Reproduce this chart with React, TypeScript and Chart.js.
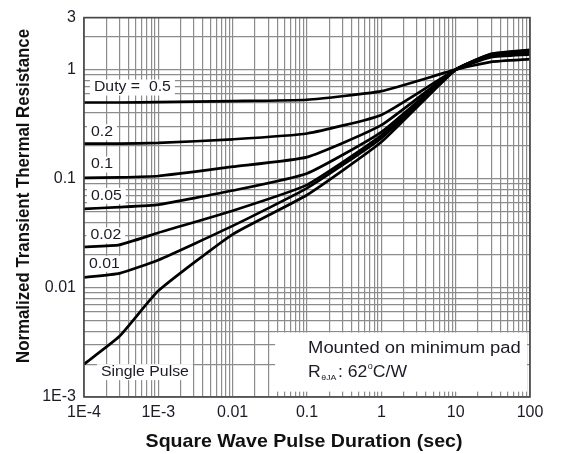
import React, { useEffect, useRef } from "react";
import { Chart, registerables } from "chart.js";

Chart.register(...registerables);

// ---- data ----
const pulseDuration = [1e-4, 3e-4, 1e-3, 1e-2, 1e-1, 1, 10, 30, 100];
const singlePulse = [0.002, 0.0036, 0.0094, 0.031, 0.071, 0.217, 1.0, 1.4, 1.52];
const duty001 = [0.0125, 0.0136, 0.018, 0.037, 0.082, 0.236, 1.0, 1.38, 1.5];
const duty002 = [0.0237, 0.0248, 0.032, 0.051, 0.088, 0.25, 1.0, 1.37, 1.48];
const duty005 = [0.053, 0.055, 0.058, 0.078, 0.112, 0.268, 1.0, 1.35, 1.45];
const duty01 = [0.102, 0.103, 0.106, 0.129, 0.158, 0.31, 1.0, 1.33, 1.42];
const duty02 = [0.21, 0.21, 0.213, 0.23, 0.26, 0.385, 1.0, 1.3, 1.38];
const duty05 = [0.5, 0.5, 0.505, 0.515, 0.53, 0.635, 1.0, 1.18, 1.25];

const xMajorTicks = [1e-4, 1e-3, 1e-2, 1e-1, 1, 10, 100];
const xTickLabels = ["1E-4", "1E-3", "0.01", "0.1", "1", "10", "100"];
const yMajorTicks = [1e-3, 1e-2, 1e-1, 1, 3];
const yTickLabels = ["1E-3", "0.01", "0.1", "1", "3"];

const curveLabelText = ["Duty =  0.5", "0.2", "0.1", "0.05", "0.02", "0.01", "Single Pulse"];
const curveLabelX = [1.36e-4, 1.24e-4, 1.24e-4, 1.24e-4, 1.22e-4, 1.17e-4, 1.69e-4];
const curveLabelY = [0.686, 0.267, 0.135, 0.0697, 0.0303, 0.0166, 0.00169];

const xTitle = "Square Wave Pulse Duration (sec)";
const yTitle = "Normalized Transient Thermal Resistance";
const noteLine1 = "Mounted on minimum pad";

// minor grid values (1..9 per decade)
const xGridValues: number[] = [];
for (let d = -4; d <= 1; d++) for (let k = 1; k <= 9; k++) xGridValues.push(k * Math.pow(10, d));
xGridValues.push(100);
const yGridValues: number[] = [];
for (let d = -3; d <= -1; d++) for (let k = 1; k <= 9; k++) yGridValues.push(k * Math.pow(10, d));
yGridValues.push(1, 2, 3);

const FONT = "'Liberation Sans', Arial, Helvetica, sans-serif";
const TEXT = "#1b1b26";

function labelFor(v: number, majors: number[], labels: string[]) {
  const i = majors.findIndex((t) => Math.abs(t - v) / t < 1e-6);
  return i >= 0 ? labels[i] : "";
}

function drawStretched(ctx: CanvasRenderingContext2D, text: string, x: number, y: number, font: string, sx: number, align: string = "left") {
  ctx.save();
  ctx.font = font;
  ctx.textBaseline = "middle";
  ctx.textAlign = "left";
  const w = ctx.measureText(text).width * sx;
  const left = align === "center" ? x - w / 2 : align === "right" ? x - w : x;
  ctx.translate(left, y);
  ctx.scale(sx, 1);
  ctx.fillText(text, 0, 0);
  ctx.restore();
  return w;
}

const annotationPlugin = {
  id: "annotations",
  beforeDatasetsDraw(chart: any) {
    const { ctx, scales, chartArea } = chart;
    const x = scales.x, y = scales.y;
    ctx.save();
    ctx.fillStyle = "#ffffff";
    ctx.font = `14px ${FONT}`;
    for (let i = 0; i < curveLabelText.length; i++) {
      const px = x.getPixelForValue(curveLabelX[i]);
      const py = y.getPixelForValue(curveLabelY[i]);
      const w = ctx.measureText(curveLabelText[i]).width * 1.13;
      ctx.fillRect(px - 4, py - 8, w + 8, 16);
    }
    // note box, bottom right
    const bx = x.getPixelForValue(0.0372);
    const by = y.getPixelForValue(0.0039);
    const bb = y.getPixelForValue(0.00112);
    ctx.fillRect(bx, by, chartArea.right - 3 - bx, bb - by);
    ctx.restore();
  },
  afterDatasetsDraw(chart: any) {
    const { ctx, scales } = chart;
    const x = scales.x, y = scales.y;
    ctx.save();
    ctx.fillStyle = TEXT;
    for (let i = 0; i < curveLabelText.length; i++) {
      drawStretched(ctx, curveLabelText[i], x.getPixelForValue(curveLabelX[i]), y.getPixelForValue(curveLabelY[i]), `14px ${FONT}`, 1.13);
    }
    const nx = x.getPixelForValue(0.1033);
    drawStretched(ctx, noteLine1, nx, y.getPixelForValue(0.00279), `16px ${FONT}`, 1.15);
    // R θJA : 62°C/W
    const ry = y.getPixelForValue(0.00169);
    let cx = nx;
    cx += drawStretched(ctx, "R", cx, ry, `16px ${FONT}`, 1.1);
    cx += drawStretched(ctx, "θJA", cx + 0.5, ry + 6, `8px ${FONT}`, 1.1) + 2;
    cx += drawStretched(ctx, ": 62", cx, ry, `16px ${FONT}`, 1.1);
    cx += drawStretched(ctx, "o", cx + 0.5, ry - 6, `9px ${FONT}`, 1.0) + 0.5;
    drawStretched(ctx, "C/W", cx, ry, `16px ${FONT}`, 1.1);
    ctx.restore();
  },
  afterDraw(chart: any) {
    const { ctx, chartArea } = chart;
    ctx.save();
    ctx.strokeStyle = "#474747";
    ctx.lineWidth = 1.6;
    ctx.strokeRect(chartArea.left, chartArea.top, chartArea.right - chartArea.left, chartArea.bottom - chartArea.top);
    ctx.fillStyle = "#111111";
    drawStretched(ctx, xTitle, 304, 441.5, `bold 19px ${FONT}`, 1.03, "center");
    ctx.translate(24, 196);
    ctx.rotate(-Math.PI / 2);
    drawStretched(ctx, yTitle, 0, 0, `bold 18.5px ${FONT}`, 0.91, "center");
    ctx.restore();
  },
};

export default function App() {
  const canvasRef = useRef<HTMLCanvasElement | null>(null);

  useEffect(() => {
    const canvas = canvasRef.current;
    if (!canvas) return;
    const series = [
      { label: "Single Pulse", values: singlePulse },
      { label: "0.01", values: duty001 },
      { label: "0.02", values: duty002 },
      { label: "0.05", values: duty005 },
      { label: "0.1", values: duty01 },
      { label: "0.2", values: duty02 },
      { label: "0.5", values: duty05 },
    ];
    const chart = new Chart(canvas, {
      type: "line",
      data: {
        datasets: series.map((s) => ({
          label: s.label,
          data: pulseDuration.map((t, i) => ({ x: t, y: s.values[i] })),
          borderColor: "#000000",
          borderWidth: 2.7,
          pointRadius: 0,
          tension: 0.15,
          fill: false,
        })),
      },
      options: {
        animation: false,
        responsive: false,
        devicePixelRatio: 1,
        layout: { padding: { top: 14, right: 31, left: 0, bottom: 0 } },
        plugins: { legend: { display: false }, tooltip: { enabled: false } },
        scales: {
          x: {
            type: "logarithmic",
            min: 1e-4,
            max: 100,
            afterBuildTicks: (scale: any) => {
              scale.ticks = xGridValues.map((v) => ({ value: v }));
            },
            afterFit: (scale: any) => {
              scale.height = 57;
            },
            ticks: {
              autoSkip: false,
              maxRotation: 0,
              minRotation: 0,
              padding: 6,
              color: TEXT,
              font: { family: FONT, size: 16 },
              callback: (v: any) => labelFor(Number(v), xMajorTicks, xTickLabels),
            },
            grid: { color: "#8c8c8c", lineWidth: 1.2, drawTicks: false },
            border: { display: false },
          },
          y: {
            type: "logarithmic",
            min: 1e-3,
            max: 3,
            afterBuildTicks: (scale: any) => {
              scale.ticks = yGridValues.map((v) => ({ value: v }));
            },
            afterFit: (scale: any) => {
              scale.width = 84;
            },
            ticks: {
              autoSkip: false,
              padding: 8,
              color: TEXT,
              font: { family: FONT, size: 16 },
              callback: (v: any) => labelFor(Number(v), yMajorTicks, yTickLabels),
            },
            grid: { color: "#8c8c8c", lineWidth: 1.2, drawTicks: false },
            border: { display: false },
          },
        },
      },
      plugins: [annotationPlugin],
    });
    return () => chart.destroy();
  }, []);

  return (
    <div style={{ position: "absolute", left: 0, top: 0, width: 561, height: 454, background: "#fff" }}>
      <canvas ref={canvasRef} width={561} height={454} />
    </div>
  );
}
